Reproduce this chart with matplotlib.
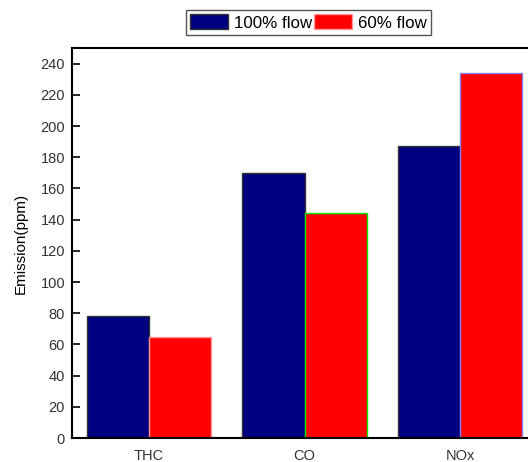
import matplotlib
matplotlib.use("Agg")
import matplotlib.pyplot as plt
import numpy as np

plt.rcParams['font.family'] = ['Liberation Sans', 'DejaVu Sans']

pollutants = ["THC", "CO", "NOx"]
flow_100 = [78, 170, 187]
flow_60 = [65, 144, 234]
series_labels = ["100% flow", "60% flow"]

# edge colours as they show in the picture
edge_100 = ["#333333", "#333333", "#333333"]
edge_60 = ["#ff9999", "#00ee00", "#8080ff"]

x = np.arange(len(pollutants))
w = 0.4

fig = plt.figure(figsize=(5.28, 4.62), dpi=100)
ax = fig.add_axes([72/528, 1-438/462, 1-72/528, (438-48)/462])

b1 = ax.bar(x - w/2, flow_100, w, color="#000080", edgecolor=edge_100, linewidth=1, label=series_labels[0])
b2 = ax.bar(x + w/2, flow_60, w, color="#ff0000", edgecolor=edge_60, linewidth=1, label=series_labels[1])

ax.set_xlim(-0.495, 2.437)
ax.set_ylim(0, 250)
ax.set_yticks(np.arange(0, 241, 20))
ax.set_xticks(x)
ax.set_xticklabels(pollutants)
ax.tick_params(axis="y", direction="in", length=6, width=1.2, labelsize=10.5, labelcolor="#333333", pad=5)
ax.tick_params(axis="x", length=0, labelsize=10.5, labelcolor="#333333", pad=8)
ax.spines["right"].set_visible(False)
for s in ["left", "bottom", "top"]:
    ax.spines[s].set_linewidth(1.5)
ax.set_ylabel("Emission(ppm)", fontsize=11, labelpad=9)

fig.legend(handles=[b1, b2], labels=series_labels, ncol=2, loc="upper left",
           bbox_to_anchor=(186/528, 1-10/462), fontsize=12.2, fancybox=False,
           edgecolor="#555555", framealpha=1, handlelength=2.2, handleheight=1.0,
           handletextpad=0.4, columnspacing=0.1, borderpad=0.25, borderaxespad=0)

fig.savefig("out.png", dpi=100)
